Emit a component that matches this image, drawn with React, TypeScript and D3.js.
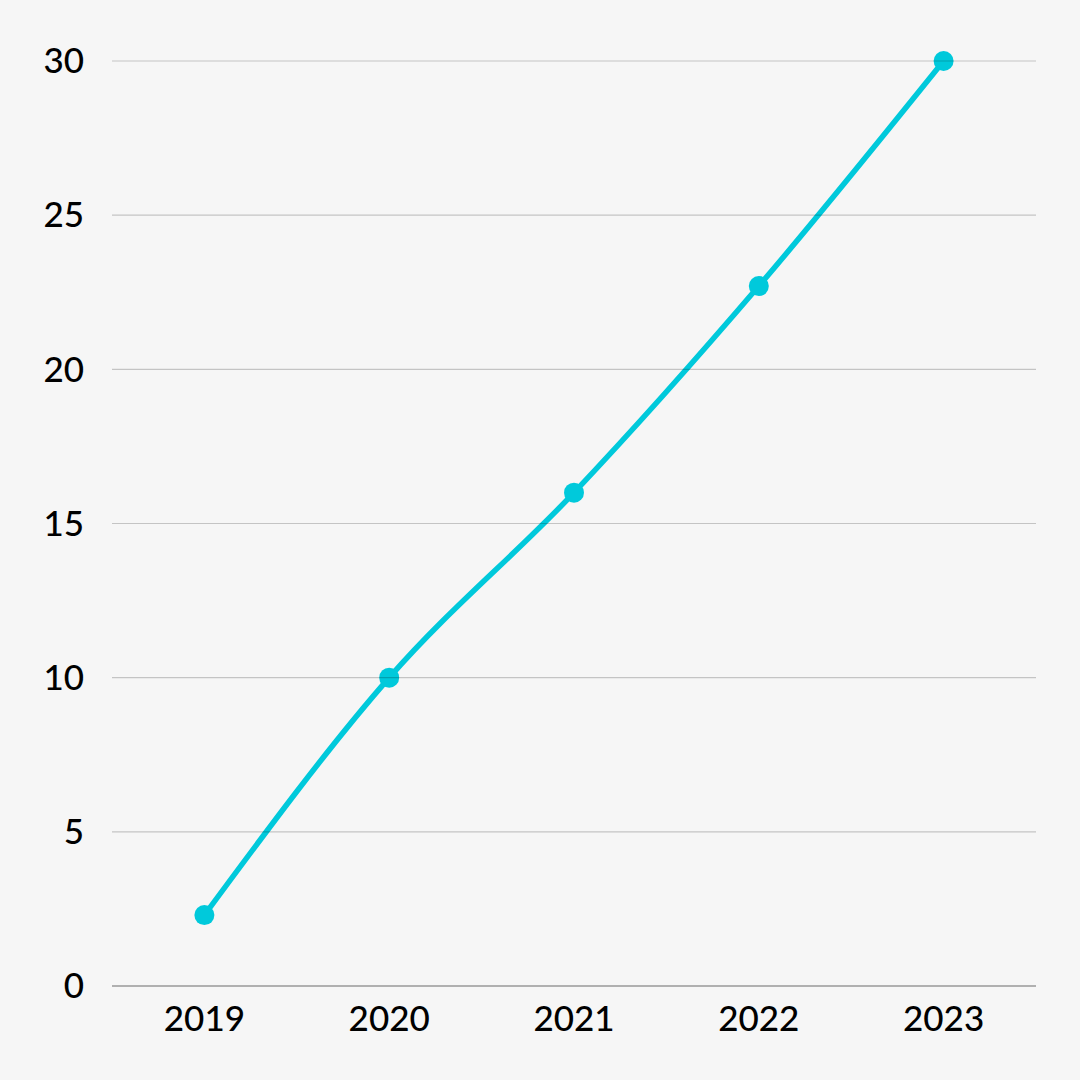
import React, { useEffect, useRef } from "react";
import * as d3 from "d3";

const years = ["2019", "2020", "2021", "2022", "2023"];
const values = [2.3, 10, 16, 22.7, 30];
const yTicks = [0, 5, 10, 15, 20, 25, 30];

const W = 1080;
const H = 1080;
const margin = { top: 61, right: 44, bottom: 94, left: 112 };

const App: React.FC = () => {
  const svgRef = useRef<SVGSVGElement>(null);

  useEffect(() => {
    const svg = d3.select(svgRef.current);
    svg.selectAll("*").remove();

    const innerW = W - margin.left - margin.right;
    const innerH = H - margin.top - margin.bottom;

    // scales
    const x = d3.scalePoint<string>().domain(years).range([0, innerW]).padding(0.5);
    const y = d3.scaleLinear().domain([0, 30]).range([innerH, 0]);

    svg.append("rect").attr("width", W).attr("height", H).attr("fill", "#f6f6f6");

    const g = svg.append("g").attr("transform", `translate(${margin.left},${margin.top})`);

    const data = years.map((yr, i) => ({ yr, v: values[i] }));

    // line
    const line = d3
      .line<{ yr: string; v: number }>()
      .curve(d3.curveMonotoneX)
      .x(d => x(d.yr) as number)
      .y(d => y(d.v));

    g.append("path")
      .datum(data)
      .attr("fill", "none")
      .attr("stroke", "#00c9db")
      .attr("stroke-width", 5.5)
      .attr("stroke-linecap", "round")
      .attr("d", line);

    g.append("g")
      .selectAll("circle")
      .data(data)
      .enter()
      .append("circle")
      .attr("cx", d => x(d.yr) as number)
      .attr("cy", d => y(d.v))
      .attr("r", 10)
      .attr("fill", "#00c9db");

    // gridlines drawn over the line
    g.append("g")
      .selectAll("line")
      .data(yTicks.filter(t => t > 0))
      .enter()
      .append("line")
      .attr("x1", 0)
      .attr("x2", innerW)
      .attr("y1", d => y(d))
      .attr("y2", d => y(d))
      .attr("stroke", "rgba(0,0,0,0.2)")
      .attr("stroke-width", 1.2);

    // baseline
    g.append("line")
      .attr("x1", 0)
      .attr("x2", innerW)
      .attr("y1", y(0))
      .attr("y2", y(0))
      .attr("stroke", "#999")
      .attr("stroke-width", 1.5);

    // y labels
    g.append("g")
      .selectAll("text")
      .data(yTicks)
      .enter()
      .append("text")
      .attr("x", -28)
      .attr("y", d => y(d))
      .attr("dy", "0.35em")
      .attr("text-anchor", "end")
      .attr("font-family", "Lato, sans-serif")
      .attr("font-size", 35)
      .attr("font-weight", 500)
      .attr("fill", "#000")
      .text(d => d);

    // x labels
    g.append("g")
      .selectAll("text")
      .data(years)
      .enter()
      .append("text")
      .attr("x", d => x(d) as number)
      .attr("y", innerH + 33)
      .attr("dy", "0.35em")
      .attr("text-anchor", "middle")
      .attr("font-family", "Lato, sans-serif")
      .attr("font-size", 35)
      .attr("font-weight", 500)
      .attr("fill", "#000")
      .text(d => d);
  }, []);

  return (
    <div style={{ position: "fixed", left: 0, top: 0 }}>
      <svg ref={svgRef} width={W} height={H} viewBox={`0 0 ${W} ${H}`} style={{ display: "block" }} />
    </div>
  );
};

export default App;
